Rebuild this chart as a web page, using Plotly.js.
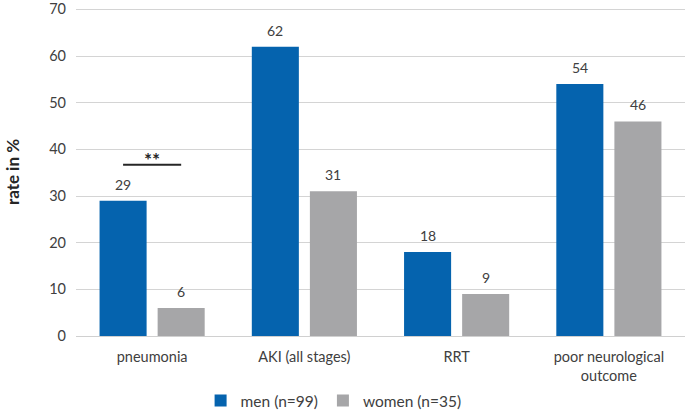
<!DOCTYPE html>
<html><head><meta charset="utf-8">
<script src="https://cdn.plot.ly/plotly-3.0.1.min.js"></script>
<style>html,body{margin:0;padding:0;background:#fff;}#chart{width:685px;height:415px;}</style>
</head><body><div id="chart"></div>
<script>
const categories = ["pneumonia", "AKI (all stages)", "RRT", "poor neurological<br>outcome"];
const menValues = [29, 62, 18, 54];
const womenValues = [6, 31, 9, 46];
const seriesNames = ["men (n=99)", "women (n=35)"];
const yTicks = [0, 10, 20, 30, 40, 50, 60, 70];
const sigLabel = "**";

const FONT = "Lato, 'Liberation Sans', sans-serif";
const menColor = "#0563ae";
const womenColor = "#a6a6a8";
const bargap = 0.237;

const traces = [
  {type: "bar", name: seriesNames[0], x: categories, y: menValues, marker: {color: menColor}, hoverinfo: "none"},
  {type: "bar", name: seriesNames[1], x: categories, y: womenValues, marker: {color: womenColor}, hoverinfo: "none"}
];

const half = (1 - bargap) / 4;
const annotations = [];
categories.forEach((c, i) => {
  [[menValues, -1], [womenValues, 1]].forEach(([vals, s]) => {
    annotations.push({x: i + s * half, y: vals[i], xref: "x", yref: "y", text: String(vals[i]),
      showarrow: false, yanchor: "bottom", yshift: 6, font: {family: FONT, size: 14, color: "#404040"}});
  });
});
const sigY = Math.max(menValues[0], womenValues[0]) + 7.7;
annotations.push({x: 0, y: sigY, xref: "x", yref: "y", text: "<b>" + sigLabel + "</b>", showarrow: false,
  yanchor: "bottom", yshift: -8, font: {family: FONT, size: 19, color: "#262626"}});

const layout = {
  width: 685, height: 415,
  margin: {l: 76, r: 0, t: 8, b: 79, pad: 0},
  paper_bgcolor: "#fff", plot_bgcolor: "#fff",
  barmode: "group", bargap: bargap, bargroupgap: 0.19,
  font: {family: FONT, size: 14, color: "#404040"},
  showlegend: true,
  legend: {orientation: "h", xref: "container", yref: "container", x: 0.487, xanchor: "center",
    y: 0.034, yanchor: "middle", font: {family: FONT, size: 15.5, color: "#404040"}, itemwidth: 30, traceorder: "normal"},
  xaxis: {type: "category", showgrid: false, showline: true, linecolor: "#d0d0d0", linewidth: 1,
    ticks: "", ticklabelstandoff: 8, tickfont: {family: FONT, size: 14.5, color: "#404040"}},
  yaxis: {range: [0, 70.3], tickvals: yTicks, showgrid: true, gridcolor: "#d4d4d4", gridwidth: 1,
    zeroline: false, showline: false, ticks: "", ticklabelstandoff: 9, ticklabeloverflow: "allow",
    tickfont: {family: FONT, size: 14.5, color: "#404040"},
    title: {text: "<b>rate in %</b>", standoff: 25, font: {family: FONT, size: 17, color: "#262626"}}},
  shapes: [{type: "line", xref: "x", yref: "y", x0: -half, x1: half, y0: sigY, y1: sigY,
    line: {color: "#262626", width: 2}}],
  annotations: annotations
};
Plotly.newPlot("chart", traces, layout, {displayModeBar: false, staticPlot: true});
</script></body></html>
